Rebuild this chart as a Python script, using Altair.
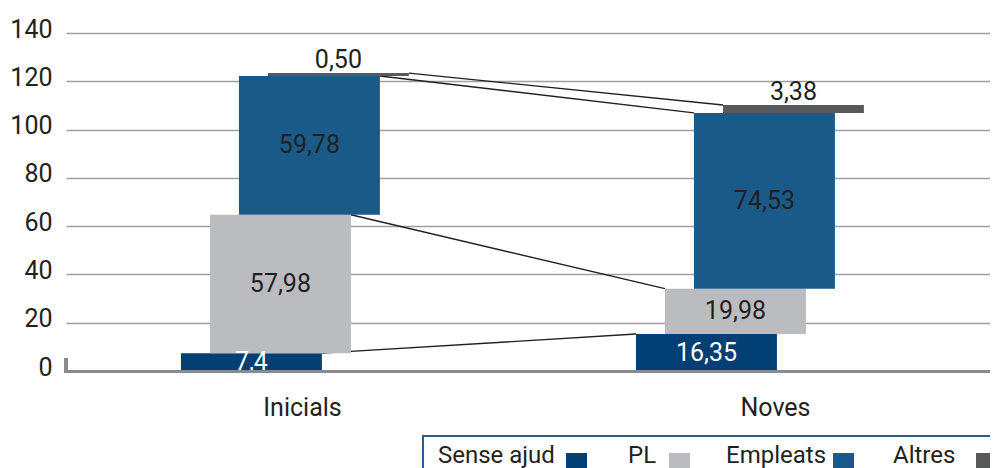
import altair as alt
import pandas as pd

# ---------------- data ----------------
categories = ["Inicials", "Noves"]
series = ["Sense ajud", "PL", "Empleats", "Altres"]
# cumulative top of each segment as drawn in the picture
top_inicials = [7.4, 64.7, 122.2, 123.4]
top_noves = [15.3, 34.1, 106.9, 110.2]
labels_inicials = ["7,4", "57,98", "59,78", "0,50"]
labels_noves = ["16,35", "19,98", "74,53", "3,38"]
y_ticks = [0, 20, 40, 60, 80, 100, 120, 140]

# ---------------- style / layout ----------------
colors = ["#023f74", "#bbbcc0", "#1a5a89", "#58595b"]
label_colors = ["#ffffff", "#231f20", "#231f20", "#231f20"]
text_color = "#231f20"
FONT = "Roboto"
FS = 25

W, H = 924, 338
group_start = [0.243, 1.205]   # x (category units) where the first bar of each group starts
step = 0.0613                   # shift between successive series
bar_w = 0.298                   # bar width in category units
x_max = 2 * W / 946             # plot area is cut at right edge

tops = [top_inicials, top_noves]
labs = [labels_inicials, labels_noves]

rows = []
for ci, cat in enumerate(categories):
    prev = 0.0
    for si, s in enumerate(series):
        x0 = group_start[ci] + si * step
        top = tops[ci][si]
        rows.append({
            "cat": cat, "series": s, "order": si,
            "x0": x0, "x1": x0 + bar_w,
            "xm": x0 + bar_w / 2,
            "bottom": prev, "top": top,
            "mid": (prev + top) / 2,
            "label": labs[ci][si],
            "is_top": si == len(series) - 1,
        })
        prev = top
df = pd.DataFrame(rows)

# connector lines: top of each series, right edge (Inicials) -> left edge (Noves)
conn = []
for si, s in enumerate(series):
    a = df[(df.cat == categories[0]) & (df.series == s)].iloc[0]
    b = df[(df.cat == categories[1]) & (df.series == s)].iloc[0]
    conn.append({"series": s, "xa": a.x1, "ya": a.top, "xb": b.x0, "yb": b.top})
conn_df = pd.DataFrame(conn)

cat_df = pd.DataFrame({"cat": categories, "xc": [i + 0.5 for i in range(len(categories))]})

xscale = alt.Scale(domain=[0, x_max], nice=False, zero=False)
yscale = alt.Scale(domain=[0, 140], nice=False)
x_axis = alt.Axis(title=None, labels=False, ticks=False, grid=False, domain=True,
                  domainColor="#8b8b8e", domainWidth=3, zindex=1)
y_axis = alt.Axis(title=None, values=y_ticks, grid=True, gridColor="#9f9fa1", gridWidth=1.5,
                  domain=False, ticks=False, labelFontSize=FS, labelFont=FONT,
                  labelColor=text_color, labelPadding=14, labelOffset=-4)

color_scale = alt.Scale(domain=series, range=colors)

connectors = alt.Chart(conn_df).mark_rule(color=text_color, strokeWidth=1.4).encode(
    x=alt.X("xa:Q", scale=xscale, axis=x_axis),
    x2="xb:Q",
    y=alt.Y("ya:Q", scale=yscale, axis=y_axis),
    y2="yb:Q",
)

bars = alt.Chart(df).mark_bar(size=1).encode(
    x=alt.X("x0:Q", scale=xscale, axis=x_axis),
    x2="x1:Q",
    y=alt.Y("bottom:Q", scale=yscale, axis=y_axis),
    y2="top:Q",
    color=alt.Color("series:N", scale=color_scale, legend=None),
    order="order:Q",
)

mid_labels = alt.Chart(df[~df.is_top]).mark_text(
    font=FONT, fontSize=FS, baseline="middle", align="center").encode(
    x=alt.X("xm:Q", scale=xscale, axis=x_axis),
    y=alt.Y("mid:Q", scale=yscale, axis=y_axis),
    text="label:N",
    color=alt.Color("series:N", scale=alt.Scale(domain=series, range=label_colors), legend=None),
)

top_labels = alt.Chart(df[df.is_top]).mark_text(
    font=FONT, fontSize=FS, baseline="alphabetic", align="center", dy=-5,
    color=text_color).encode(
    x=alt.X("xm:Q", scale=xscale, axis=x_axis),
    y=alt.Y("top:Q", scale=yscale, axis=y_axis),
    text="label:N",
)

cat_labels = alt.Chart(cat_df).mark_text(
    font=FONT, fontSize=FS, baseline="alphabetic", align="center", color=text_color).encode(
    x=alt.X("xc:Q", scale=xscale, axis=x_axis),
    y=alt.value(H + 45),
    text="cat:N",
)

# left stub tick of the category axis
stub = alt.Chart(pd.DataFrame({"a": [0]})).mark_rule(color="#8b8b8e", strokeWidth=4).encode(
    x=alt.value(0), y=alt.value(H - 13), y2=alt.value(H + 2),
)

# legend (label before swatch) drawn manually, boxed
legend_text_x = [372, 562, 660, 827]
legend_sw_x = [500, 603, 767, 910]
leg_df = pd.DataFrame({"series": series, "tx": legend_text_x,
                       "sx": legend_sw_x, "sx2": [v + 21 for v in legend_sw_x]})

LEG_TOP = H + 65
leg_box = alt.Chart(pd.DataFrame({"a": [0]})).mark_rect(
    fill="#ffffff", stroke="#2d5a86", strokeWidth=2).encode(
    x=alt.value(357), x2=alt.value(960), y=alt.value(LEG_TOP), y2=alt.value(LEG_TOP + 80),
)
leg_text = alt.Chart(leg_df).mark_text(
    font=FONT, fontSize=24, align="left", baseline="alphabetic", color=text_color).encode(
    x=alt.X("tx:Q", scale=None),
    y=alt.value(LEG_TOP + 27),
    text="series:N",
)
leg_sw = alt.Chart(leg_df).mark_rect().encode(
    x=alt.X("sx:Q", scale=None),
    x2="sx2:Q",
    y=alt.value(LEG_TOP + 17),
    y2=alt.value(LEG_TOP + 40),
    color=alt.Color("series:N", scale=color_scale, legend=None),
)

chart = alt.layer(
    connectors, bars, mid_labels, top_labels, cat_labels, stub, leg_box, leg_text, leg_sw
).resolve_scale(color="independent").properties(
    width=W, height=H,
    autosize=alt.AutoSizeParams(type="none"),
    padding={"left": 58, "top": 25, "right": 0, "bottom": 97},
    background="#ffffff",
).configure_view(strokeWidth=0)

chart.save("out.html", embed_options={"renderer": "svg", "actions": False})
